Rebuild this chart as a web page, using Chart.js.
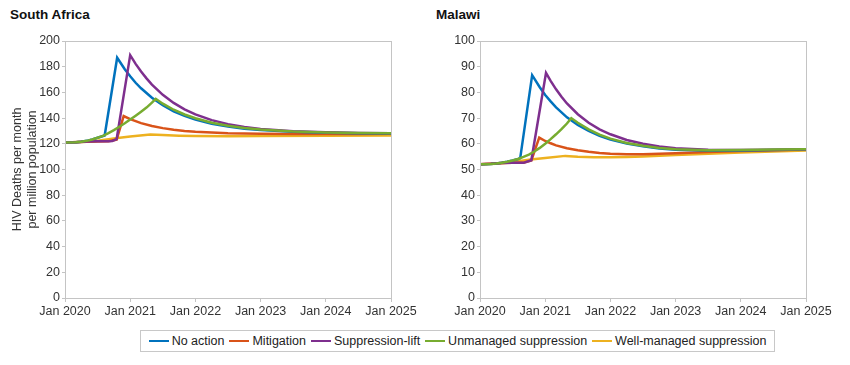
<!DOCTYPE html>
<html><head><meta charset="utf-8">
<script src="https://cdn.jsdelivr.net/npm/chart.js@4"></script>
<style>
body{margin:0;background:#fff;width:850px;height:365px;overflow:hidden;position:relative;font-family:"Liberation Sans",Arial,sans-serif;}
.title{position:absolute;top:7px;font-weight:bold;font-size:13.5px;line-height:16px;color:#111;}
canvas{position:absolute;top:0;}
#legend{position:absolute;left:140px;top:330px;width:635px;height:22px;box-sizing:border-box;border:1px solid #c8c8c8;display:flex;align-items:center;justify-content:center;font-size:12.5px;color:#222;}
.item{display:flex;align-items:center;margin:0 2.5px;white-space:nowrap;}
.swatch{width:20px;height:2.5px;margin-right:3px;}
</style></head><body>
<div class="title" style="left:10px">South Africa</div>
<div class="title" style="left:436px">Malawi</div>
<canvas id="sa" width="420" height="325" style="left:0;width:420px;height:325px"></canvas>
<canvas id="mw" width="430" height="325" style="left:420px;width:430px;height:325px"></canvas>
<div id="legend"></div>
<script>
// Series names and colours
const seriesNames = ['No action','Mitigation','Suppression-lift','Unmanaged suppression','Well-managed suppression'];
const seriesColors = ['#0072BD','#D95319','#7E2F8E','#77AC30','#EDB120'];
const drawOrder = [2,3,1,0,4];
const xTickLabels = ['Jan 2020','Jan 2021','Jan 2022','Jan 2023','Jan 2024','Jan 2025'];
const yTitle = ['HIV Deaths per month','per million population'];

// South Africa (months since Jan 2020, deaths per month per million)
const saNoActionM = [0,2,3,4,5,6,7,7.3,9.6,11,12,13,14,16,18,20,22,24,27,30,33,36,42,48,54,60];
const saNoActionV = [121,121.2,121.6,122.3,123.4,124.7,126.1,126.5,187,178,172.5,167.5,163.2,155.8,150,145.3,141.7,138.9,135.6,133.4,131.8,130.7,129.3,128.6,128.3,128.1];
const saMitigationM = [0,4,6,8,9.5,10.8,12,13,14,16,18,20,22,24,27,30,36,42,48,54,60];
const saMitigationV = [121,121.6,121.8,122,123.3,141.6,139.2,137.6,136.1,133.8,132.2,130.9,130,129.3,128.7,128.2,127.8,127.7,127.7,127.7,127.8];
const saSuppLiftM = [0,2,4,6,8,8.7,9.5,12,13,14,15,16,18,20,22,24,27,30,33,36,42,48,54,60];
const saSuppLiftV = [121,121.2,121.8,122,122,122.2,123.6,189,182.2,176.2,170.9,166.1,158.1,151.8,146.8,142.9,138.4,135.3,133.1,131.6,129.8,128.9,128.4,128.2];
const saUnmanagedM = [0,2,3,4,5,6,7,8,9,10,11,12,13,14,15,16,16.7,18,20,22,24,27,30,33,36,42,48,54,60];
const saUnmanagedV = [121,121.2,121.6,122.3,123.4,124.7,126.1,128.3,130.7,133.3,136,138.9,141.9,145,148.2,152,155,151.2,146.5,142.8,139.9,136.4,134,132.3,131.1,129.6,128.8,128.4,128.2];
const saWellManagedM = [0,4,6,8,9.3,12,15.7,18,21,24,30,36,48,60];
const saWellManagedV = [121,121.5,122.3,123.5,124.3,125.6,127.3,126.8,126.3,126,125.9,126,126.2,126.4];

// Malawi
const mwNoActionM = [0,2,3,4,5,6,7,7.4,9.6,11,12,13,14,16,18,20,22,24,27,30,33,36,42,48,54,60];
const mwNoActionV = [52,52.1,52.3,52.6,53,53.5,54.1,54.4,86.7,82,79,76.5,74.2,70.3,67.3,65,63.1,61.7,60.1,59,58.2,57.7,57.4,57.4,57.6,57.8];
const mwMitigationM = [0,4,6,8,9.45,10.9,12,13,14,16,18,20,22,24,27,30,36,42,48,54,60];
const mwMitigationV = [52,52.5,52.6,52.6,53.5,62.4,61.1,60.2,59.4,58.3,57.5,56.9,56.4,56.1,55.9,55.9,56.3,56.8,57.2,57.5,57.8];
const mwSuppLiftM = [0,2,4,6,8,9.45,12.15,13,14,15,16,18,20,22,24,27,30,33,36,42,48,54,60];
const mwSuppLiftV = [52,52.2,52.5,52.6,52.6,53.6,87.6,84.5,81.2,78.3,75.7,71.5,68.2,65.6,63.7,61.5,60,59,58.3,57.7,57.6,57.7,57.8];
const mwUnmanagedM = [0,2,3,4,5,6,7,8,9,10,11,12,13,14,15,16,16.8,18,20,22,24,27,30,33,36,42,48,54,60];
const mwUnmanagedV = [52,52.1,52.3,52.6,53,53.5,54.1,54.9,55.8,57,58.4,60,61.8,63.7,65.7,67.9,70,68.2,65.6,63.6,62,60.3,59.2,58.4,57.9,57.5,57.6,57.8,57.9];
const mwWellManagedM = [0,3,5,7,9.3,12,15.7,18,21,24,27,30,36,42,48,54,60];
const mwWellManagedV = [52,52.2,52.6,53.2,53.9,54.5,55.3,55,54.8,54.8,54.9,55.1,55.6,56.1,56.6,57,57.4];

const saSeries = [[saNoActionM,saNoActionV],[saMitigationM,saMitigationV],[saSuppLiftM,saSuppLiftV],[saUnmanagedM,saUnmanagedV],[saWellManagedM,saWellManagedV]];
const mwSeries = [[mwNoActionM,mwNoActionV],[mwMitigationM,mwMitigationV],[mwSuppLiftM,mwSuppLiftV],[mwUnmanagedM,mwUnmanagedV],[mwWellManagedM,mwWellManagedV]];

const FONT = {family:'"Liberation Sans", Arial, sans-serif', size:12.5};
const AXIS = '#c4c4c4';

const frame = {
  id:'frame',
  afterDraw(chart){
    const {ctx, chartArea:a} = chart;
    ctx.save();
    ctx.strokeStyle = AXIS; ctx.lineWidth = 1;
    ctx.strokeRect(Math.round(a.left)+0.5, Math.round(a.top)+0.5, Math.round(a.right-a.left), Math.round(a.bottom-a.top));
    ctx.restore();
  }
};

function makeChart(id, series, yMax, yStep, showTitle, padLeft, padRight, yWidth){
  const datasets = series.map((s,i)=>({
    label: seriesNames[i],
    data: s[0].map((m,k)=>({x:m, y:s[1][k]})),
    borderColor: seriesColors[i],
    backgroundColor: seriesColors[i],
    borderWidth: 2.5,
    pointRadius: 0,
    tension: 0,
    fill: false,
    order: drawOrder[i]
  }));
  return new Chart(document.getElementById(id), {
    type:'line',
    data:{datasets},
    plugins:[frame],
    options:{
      responsive:false, animation:false, devicePixelRatio:1,
      layout:{padding:{left:padLeft, right:padRight, top:41, bottom:0}},
      plugins:{legend:{display:false}, tooltip:{enabled:false}},
      scales:{
        x:{type:'linear', min:0, max:60,
           afterFit(s){ s.height = 27; },
           border:{color:AXIS},
           grid:{drawOnChartArea:false, drawTicks:true, tickLength:4, color:AXIS},
           ticks:{stepSize:12, autoSkip:false, maxRotation:0, padding:2, color:'#333', font:FONT,
                  callback:(v)=> xTickLabels[v/12]}},
        y:{min:0, max:yMax,
           afterFit(s){ s.width = yWidth; },
           border:{color:AXIS},
           grid:{drawOnChartArea:false, drawTicks:true, tickLength:3, color:AXIS},
           ticks:{stepSize:yStep, padding:2, color:'#333', font:FONT},
           title:{display:showTitle, text:yTitle, color:'#333', font:FONT, padding:0}}
      }
    }
  });
}
makeChart('sa', saSeries, 200, 20, true, 10, 29, 55);
makeChart('mw', mwSeries, 100, 10, false, 10, 44, 50);

const lg = document.getElementById('legend');
seriesNames.forEach((n,i)=>{
  const it = document.createElement('div'); it.className='item';
  const sw = document.createElement('div'); sw.className='swatch'; sw.style.background=seriesColors[i];
  const tx = document.createElement('span'); tx.textContent=n;
  it.appendChild(sw); it.appendChild(tx); lg.appendChild(it);
});
</script>
</body></html>
